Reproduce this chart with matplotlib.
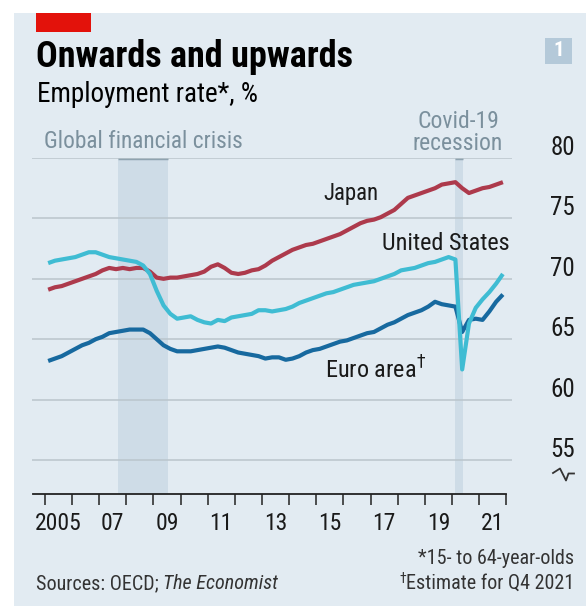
import matplotlib
matplotlib.use("Agg")
import matplotlib.pyplot as plt
from matplotlib.patches import Rectangle
import numpy as np

plt.rcParams['font.family'] = ['Roboto Condensed', 'Liberation Sans Narrow', 'Roboto', 'DejaVu Sans']

# quarterly data, 2005Q1 - 2021Q4, employment rate of 15-64 year olds (%)
first_year = 2005
last_year = 2021

japan = [69.1, 69.3, 69.4, 69.6,
         69.8, 70.0, 70.2, 70.4,
         70.7, 70.9, 70.8, 70.9,
         70.8, 70.9, 70.9, 70.6,
         70.1, 70.0, 70.1, 70.1,
         70.2, 70.3, 70.4, 70.6,
         71.0, 71.2, 70.9, 70.5,
         70.4, 70.5, 70.7, 70.8,
         71.1, 71.5, 71.8, 72.1,
         72.4, 72.6, 72.8, 72.9,
         73.1, 73.3, 73.5, 73.7,
         74.0, 74.3, 74.6, 74.8,
         74.9, 75.1, 75.4, 75.7,
         76.2, 76.7, 76.9, 77.1,
         77.3, 77.5, 77.8, 77.9,
         78.0, 77.5, 77.1, 77.3,
         77.5, 77.6, 77.8, 78.0]

united_states = [71.3, 71.5, 71.6, 71.7,
                 71.8, 72.0, 72.2, 72.2,
                 72.0, 71.8, 71.7, 71.6,
                 71.5, 71.4, 71.1, 70.4,
                 69.0, 67.8, 67.1, 66.7,
                 66.8, 66.9, 66.6, 66.4,
                 66.3, 66.6, 66.5, 66.8,
                 66.9, 67.0, 67.1, 67.4,
                 67.4, 67.3, 67.4, 67.5,
                 67.7, 68.0, 68.2, 68.4,
                 68.6, 68.8, 68.9, 69.1,
                 69.3, 69.5, 69.6, 69.7,
                 69.8, 70.0, 70.2, 70.4,
                 70.7, 70.8, 70.9, 71.1,
                 71.3, 71.4, 71.6, 71.8,
                 71.6, 62.5, 66.3, 67.6,
                 68.3, 68.9, 69.6, 70.4]

euro_area = [63.2, 63.4, 63.6, 63.9,
             64.2, 64.5, 64.7, 65.0,
             65.2, 65.5, 65.6, 65.7,
             65.8, 65.8, 65.8, 65.5,
             65.0, 64.5, 64.2, 64.0,
             64.0, 64.0, 64.1, 64.2,
             64.3, 64.4, 64.3, 64.1,
             63.9, 63.8, 63.7, 63.6,
             63.4, 63.5, 63.5, 63.3,
             63.4, 63.6, 63.9, 64.1,
             64.2, 64.4, 64.6, 64.8,
             64.9, 65.1, 65.3, 65.5,
             65.6, 65.9, 66.2, 66.4,
             66.7, 67.0, 67.2, 67.4,
             67.7, 68.1, 67.9, 67.8,
             67.7, 65.6, 66.6, 66.7,
             66.6, 67.3, 68.1, 68.7]

# recessions (start, end) in decimal years
recessions = [(2007.7, 2009.55), (2020.1, 2020.42)]

y_ticks = [55, 60, 65, 70, 75, 80]
tick_years = list(range(2005, 2023))
label_years = [2005, 2007, 2009, 2011, 2013, 2015, 2017, 2019, 2021]
tick_labels = ["2005", "07", "09", "11", "13", "15", "17", "19", "21"]

# colours
BG = '#e2ebf2'
SHADE = '#cedce7'
GRID = '#bac5cc'
LABEL_GREY = '#7b909d'
JAPAN_C = '#ad3a4c'
US_C = '#3fbcd3'
EURO_C = '#17699f'
INK = '#1a1a1a'

W, H = 586, 606
fig = plt.figure(figsize=(W / 100, H / 100), dpi=100)
fig.patch.set_facecolor('white')
fig.patches.append(Rectangle((14 / W, 0), 1 - 14 / W, 1 - 13 / H, transform=fig.transFigure,
                             facecolor=BG, edgecolor='none', zorder=-2))
# red tag
fig.patches.append(Rectangle((36 / W, 1 - 32 / H), 55 / W, 19 / H, transform=fig.transFigure,
                             facecolor='#e3120b', edgecolor='none', zorder=-1))
# chart number box
fig.patches.append(Rectangle((545 / W, 1 - 64 / H), 27 / W, 26 / H, transform=fig.transFigure,
                             facecolor='#b4c9d9', edgecolor='none', zorder=-1))


def ftext(x, y, s, **kw):
    """text at figure pixel position, y measured from the top"""
    return fig.text(x / W, 1 - y / H, s, **kw)


ax = fig.add_axes([32 / W, 1 - 494 / H, 480 / W, (494 - 158) / H])
ax.set_facecolor('none')
ax.set_xlim(2004.53, 2022.21)
ax.set_ylim(52.19, 80)

quarters = np.array([y + (q + 0.5) / 4 for y in range(first_year, last_year + 1) for q in range(4)])

for start, end in recessions:
    ax.axvspan(start, end, color=SHADE, lw=0, zorder=0.5)
    ax.hlines(80, start, end, color='#8fa3b0', lw=2.5, zorder=1.5)

ax.plot(quarters, euro_area, color=EURO_C, lw=3.0, solid_capstyle='butt', zorder=3)
ax.plot(quarters, japan, color=JAPAN_C, lw=3.0, solid_capstyle='butt', zorder=3)
ax.plot(quarters, united_states, color=US_C, lw=3.0, solid_capstyle='butt', zorder=4)

ax.set_yticks(y_ticks)
ax.yaxis.grid(True, color=GRID, lw=1.1, zorder=1)
ax.tick_params(axis='y', length=0, labelleft=False)
for v in y_ticks:
    ax.text((575 - 32) / 480, v + 0.25, str(v), transform=ax.get_yaxis_transform(),
            ha='right', va='baseline', fontsize=18, color=INK)

for side in ['left', 'right', 'top']:
    ax.spines[side].set_visible(False)
ax.spines['bottom'].set_bounds(2004.57, 2022)
ax.spines['bottom'].set_color('#222222')
ax.spines['bottom'].set_linewidth(1.3)

ax.set_xticks(tick_years)
ax.set_xticklabels([''] * len(tick_years))
ax.set_xticks([y + 0.5 for y in label_years], minor=True)
ax.set_xticklabels(tick_labels, minor=True)
ax.tick_params(axis='x', which='major', direction='out', length=8, width=1.1, color='#222222')
ax.tick_params(axis='x', which='minor', length=0, pad=13, labelsize=17, labelcolor=INK)

# series labels
ftext(323, 200, "Japan", fontsize=16.5, color=INK, va='baseline')
ftext(382, 250, "United States", fontsize=17.5, color=INK, va='baseline')
ftext(325, 379, r"Euro area$^{\dagger}$", fontsize=17.5, color=INK, va='baseline')

# recession labels
ftext(44, 148, "Global financial crisis", fontsize=16.8, color=LABEL_GREY, va='baseline')
ftext(458, 128, "Covid-19", fontsize=17, color=LABEL_GREY, va='baseline', ha='center')
ftext(458, 150, "recession", fontsize=17, color=LABEL_GREY, va='baseline', ha='center')

# titles
ftext(36, 67, "Onwards and upwards", fontsize=26, fontweight='bold', color='black', va='baseline')
ftext(37, 102, "Employment rate*, %", fontsize=19.5, color='black', va='baseline')
ftext(558.5, 51, "1", fontsize=15, fontweight='bold', color='white', ha='center', va='center')

# footnotes
FOOT = 14.5
ftext(574, 564, "*15- to 64-year-olds", fontsize=FOOT, color='#333333', ha='right', va='baseline')
est = ftext(574, 589, "Estimate for Q4 2021", fontsize=FOOT, color='#333333', ha='right', va='baseline')
src = ftext(36, 589, "Sources: OECD; ", fontsize=FOOT, color='#333333', va='baseline')
fig.canvas.draw()
bb = src.get_window_extent()
fig.text(bb.x1 / W, 1 - 589 / H, "The Economist", fontsize=FOOT, color='#333333',
         style='italic', va='baseline')
eb = est.get_window_extent()
fig.text(eb.x0 / W, 1 - 583 / H, "\u2020", fontsize=10, color='#333333', ha='right', va='baseline')

# axis break symbol
bx = np.array([553, 560, 566, 568.5, 574]) / W
by = 1 - np.array([473, 468.5, 480.5, 473.5, 473.5]) / H
fig.lines.append(plt.Line2D(bx, by, transform=fig.transFigure, color='#333333', lw=1.3))

fig.savefig('out.png', dpi=100, facecolor=fig.get_facecolor())
